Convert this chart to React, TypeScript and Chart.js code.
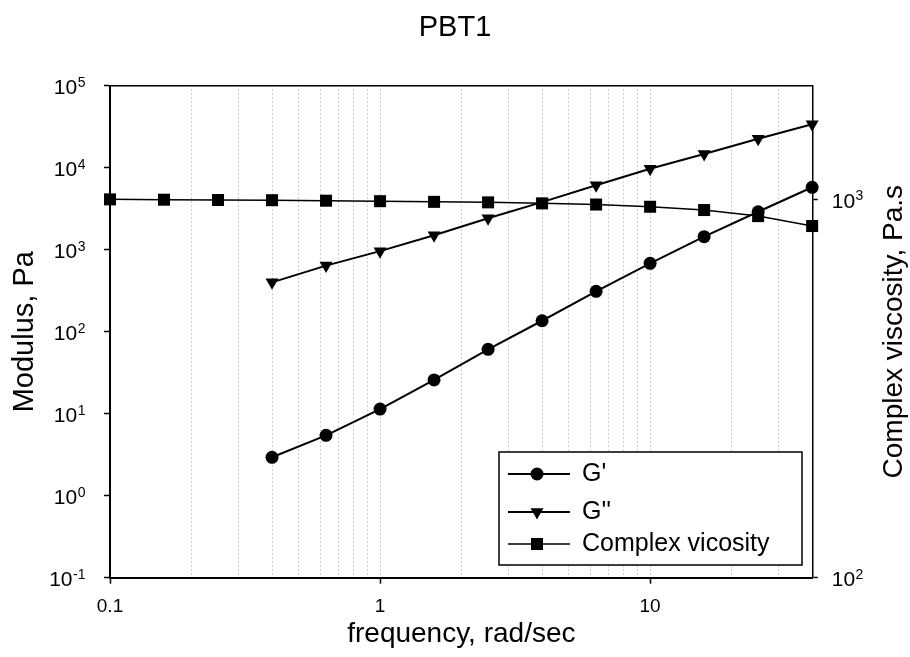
import React, { useEffect, useRef } from 'react';
import { Chart, registerables } from 'chart.js';

Chart.register(...registerables);

const FONT = "'Liberation Sans', Arial, Helvetica, sans-serif";

// ---- data ----
const frequency = [0.1, 0.1585, 0.2512, 0.3981, 0.631, 1, 1.585, 2.512, 3.981, 6.31, 10, 15.85, 25.12, 39.81];
const storageModulus = [null, null, null, 2.94, 5.45, 11.4, 25.8, 61, 136, 311, 682, 1442, 2904, 5770];
const lossModulus = [null, null, null, 400, 640, 960, 1500, 2420, 3800, 6100, 9700, 14700, 22600, 33800];
const complexViscosity = [1001, 999, 997, 996, 993, 990, 986, 983, 977, 970, 957, 938, 904, 851];

const seriesNames = ["G'", "G''", 'Complex vicosity'];

const chartTitle = 'PBT1';
const xAxisTitle = 'frequency, rad/sec';
const leftAxisTitle = 'Modulus, Pa';
const rightAxisTitle = 'Complex viscosity, Pa.s';

const xLabelValues = [0.1, 1, 10];
const xLabelTexts = ['0.1', '1', '10'];
const leftTickValues = [0.1, 1, 10, 100, 1000, 10000, 100000];
const leftTickExponents = ['-1', '0', '1', '2', '3', '4', '5'];
const rightTickValues = [100, 1000];
const rightTickExponents = ['2', '3'];
const powerBase = '10';

const X_MIN = 0.1;
const X_MAX = 40;

function toPoints(values: (number | null)[]) {
  const pts: { x: number; y: number }[] = [];
  values.forEach((v, i) => {
    if (v !== null) pts.push({ x: frequency[i], y: v });
  });
  return pts;
}

function logGridTicks(min: number, max: number) {
  const ticks: { value: number; major: boolean }[] = [];
  for (let e = Math.floor(Math.log10(min)); e <= Math.ceil(Math.log10(max)); e++) {
    for (let m = 1; m <= 9; m++) {
      const v = parseFloat((m * Math.pow(10, e)).toPrecision(8));
      if (v >= min * 0.999999 && v <= max * 1.000001) ticks.push({ value: v, major: m === 1 });
    }
  }
  return ticks;
}

function findIdx(list: number[], value: number) {
  return list.findIndex((v) => Math.abs(v - value) / v < 1e-6);
}

function drawMarker(ctx: CanvasRenderingContext2D, style: string, x: number, y: number, r: number) {
  ctx.beginPath();
  if (style === 'circle') {
    ctx.arc(x, y, r, 0, Math.PI * 2);
  } else if (style === 'triangle') {
    const a0 = Math.PI;
    for (let k = 0; k < 3; k++) {
      const a = a0 + (k * 2 * Math.PI) / 3;
      const px = x + Math.sin(a) * r;
      const py = y - Math.cos(a) * r;
      if (k === 0) ctx.moveTo(px, py);
      else ctx.lineTo(px, py);
    }
    ctx.closePath();
  } else {
    const s = Math.SQRT1_2 * r;
    ctx.rect(x - s, y - s, 2 * s, 2 * s);
  }
  ctx.fill();
}

function drawPowerLabel(
  ctx: CanvasRenderingContext2D,
  exp: string,
  x: number,
  y: number,
  align: 'left' | 'right'
) {
  ctx.font = `21px ${FONT}`;
  const bw = ctx.measureText(powerBase).width;
  ctx.font = `14px ${FONT}`;
  const ew = ctx.measureText(exp).width;
  const x0 = align === 'right' ? x - bw - ew : x;
  ctx.textAlign = 'left';
  ctx.textBaseline = 'alphabetic';
  ctx.fillStyle = '#000';
  ctx.font = `21px ${FONT}`;
  ctx.fillText(powerBase, x0, y + 8.3);
  ctx.font = `14px ${FONT}`;
  ctx.fillText(exp, x0 + bw + 0.5, y + 0.8);
}

const overlayPlugin = {
  id: 'overlay',
  afterDraw(chart: any) {
    const ctx: CanvasRenderingContext2D = chart.ctx;
    const area = chart.chartArea;

    // power-of-ten tick labels with superscripts, placed at the scales' tick pixels
    ctx.save();
    const yL = chart.scales.y;
    yL.ticks.forEach((t: any) => {
      const i = findIdx(leftTickValues, t.value);
      if (i >= 0) drawPowerLabel(ctx, leftTickExponents[i], yL.right - 6 - 19, yL.getPixelForValue(t.value), 'right');
    });
    const yR = chart.scales.y1;
    yR.ticks.forEach((t: any) => {
      const i = findIdx(rightTickValues, t.value);
      if (i >= 0) drawPowerLabel(ctx, rightTickExponents[i], yR.left + 5 + 14, yR.getPixelForValue(t.value), 'left');
    });
    ctx.restore();

    // right axis title (reads bottom to top)
    ctx.save();
    ctx.fillStyle = '#000';
    ctx.font = `28px ${FONT}`;
    ctx.textAlign = 'center';
    ctx.textBaseline = 'middle';
    ctx.translate(894, (area.top + area.bottom) / 2);
    ctx.rotate(-Math.PI / 2);
    ctx.fillText(rightAxisTitle, 0, 0);
    ctx.restore();

    // legend box
    const bx = 499, by = 452, bw = 303, bh = 113;
    ctx.save();
    ctx.fillStyle = '#fff';
    ctx.fillRect(bx, by, bw, bh);
    ctx.strokeStyle = '#000';
    ctx.lineWidth = 1.5;
    ctx.strokeRect(bx, by, bw, bh);
    const rowsY = [474, 512, 544];
    chart.data.datasets.forEach((ds: any, i: number) => {
      const y = rowsY[i];
      ctx.strokeStyle = '#000';
      ctx.lineWidth = ds.borderWidth;
      ctx.beginPath();
      ctx.moveTo(508, y);
      ctx.lineTo(570, y);
      ctx.stroke();
      ctx.fillStyle = '#000';
      drawMarker(ctx, ds.pointStyle, 537, y, ds.pointRadius);
      ctx.font = `25px ${FONT}`;
      ctx.textAlign = 'left';
      ctx.textBaseline = 'middle';
      ctx.fillText(ds.label, 582, y);
    });
    ctx.restore();
  },
};

export default function App() {
  const canvasRef = useRef<HTMLCanvasElement | null>(null);

  useEffect(() => {
    const canvas = canvasRef.current;
    if (!canvas) return;
    const chart = new Chart(canvas, {
      type: 'line',
      data: {
        datasets: [
          {
            label: seriesNames[0],
            data: toPoints(storageModulus),
            yAxisID: 'y',
            borderColor: '#000',
            backgroundColor: '#000',
            borderWidth: 2,
            pointStyle: 'circle',
            pointRadius: 6.5,
            pointBackgroundColor: '#000',
            pointBorderWidth: 0,
            tension: 0,
            clip: false,
          },
          {
            label: seriesNames[1],
            data: toPoints(lossModulus),
            yAxisID: 'y',
            borderColor: '#000',
            backgroundColor: '#000',
            borderWidth: 2,
            pointStyle: 'triangle',
            pointRotation: 180,
            pointRadius: 7.5,
            pointBackgroundColor: '#000',
            pointBorderWidth: 0,
            tension: 0,
            clip: false,
          },
          {
            label: seriesNames[2],
            data: toPoints(complexViscosity),
            yAxisID: 'y1',
            borderColor: '#000',
            backgroundColor: '#000',
            borderWidth: 1.5,
            pointStyle: 'rect',
            pointRadius: 8.5,
            pointBackgroundColor: '#000',
            pointBorderWidth: 0,
            tension: 0,
            clip: false,
          },
        ] as any,
      },
      options: {
        animation: false,
        responsive: false,
        devicePixelRatio: 1,
        events: [],
        layout: { padding: 0 },
        plugins: {
          legend: { display: false },
          tooltip: { enabled: false },
          title: {
            display: true,
            text: chartTitle,
            color: '#000',
            font: { family: FONT, size: 29, weight: 'normal' },
            padding: { top: 10.9, bottom: 40 },
          },
        },
        scales: {
          x: {
            type: 'logarithmic',
            position: 'bottom',
            min: X_MIN,
            max: X_MAX,
            afterBuildTicks: (s: any) => {
              s.ticks = logGridTicks(X_MIN, X_MAX);
            },
            afterFit: (s: any) => {
              s.height = 79.3;
            },
            ticks: {
              autoSkip: false,
              maxRotation: 0,
              color: '#000',
              padding: 12,
              font: { family: FONT, size: 19 },
              callback: (value: any) => {
                const i = findIdx(xLabelValues, Number(value));
                return i >= 0 ? xLabelTexts[i] : '';
              },
            },
            grid: {
              display: true,
              drawOnChartArea: true,
              color: '#a0a0a0',
              lineWidth: 1,
              tickLength: 6,
              tickWidth: 1.5,
              tickColor: (c: any) => (c.tick && findIdx(xLabelValues, c.tick.value) >= 0 ? '#000' : 'rgba(0,0,0,0)'),
            },
            border: { display: true, color: '#000', width: 2, dash: [1, 3] },
            title: {
              display: true,
              text: xAxisTitle,
              color: '#000',
              font: { family: FONT, size: 28 },
              padding: { top: 0, bottom: 5.8 },
            },
          },
          xTop: {
            type: 'logarithmic',
            position: 'top',
            min: X_MIN,
            max: X_MAX,
            afterFit: (s: any) => {
              s.height = 0;
            },
            ticks: { display: false },
            grid: { display: true, drawOnChartArea: false, drawTicks: false },
            border: { display: true, color: '#000', width: 1.5 },
          },
          y: {
            type: 'logarithmic',
            position: 'left',
            min: 0.1,
            max: 100000,
            afterBuildTicks: (s: any) => {
              s.ticks = leftTickValues.map((v) => ({ value: v, major: true }));
            },
            afterFit: (s: any) => {
              s.width = 110;
            },
            ticks: {
              autoSkip: false,
              color: '#000',
              padding: 19,
              font: { family: FONT, size: 21 },
              callback: () => '',
            },
            grid: { display: true, drawOnChartArea: false, tickLength: 6, tickWidth: 1.5, tickColor: '#000' },
            border: { display: true, color: '#000', width: 2 },
            title: {
              display: true,
              text: leftAxisTitle,
              color: '#000',
              font: { family: FONT, size: 29 },
              padding: { top: 7.8, bottom: 0 },
            },
          },
          y1: {
            type: 'logarithmic',
            position: 'right',
            min: 100,
            max: 2000,
            afterBuildTicks: (s: any) => {
              s.ticks = rightTickValues.map((v) => ({ value: v, major: true }));
            },
            afterFit: (s: any) => {
              s.width = 910 - 812.7;
            },
            ticks: {
              autoSkip: false,
              color: '#000',
              padding: 14,
              font: { family: FONT, size: 21 },
              callback: () => '',
            },
            grid: { display: true, drawOnChartArea: false, tickLength: 5, tickWidth: 1.5, tickColor: '#000' },
            border: { display: true, color: '#000', width: 1.5 },
          },
        },
      } as any,
      plugins: [overlayPlugin],
    });
    return () => chart.destroy();
  }, []);

  return (
    <div style={{ position: 'fixed', left: 0, top: 0, width: 910, height: 657, background: '#fff' }}>
      <canvas ref={canvasRef} width={910} height={657} style={{ display: 'block' }} />
    </div>
  );
}
